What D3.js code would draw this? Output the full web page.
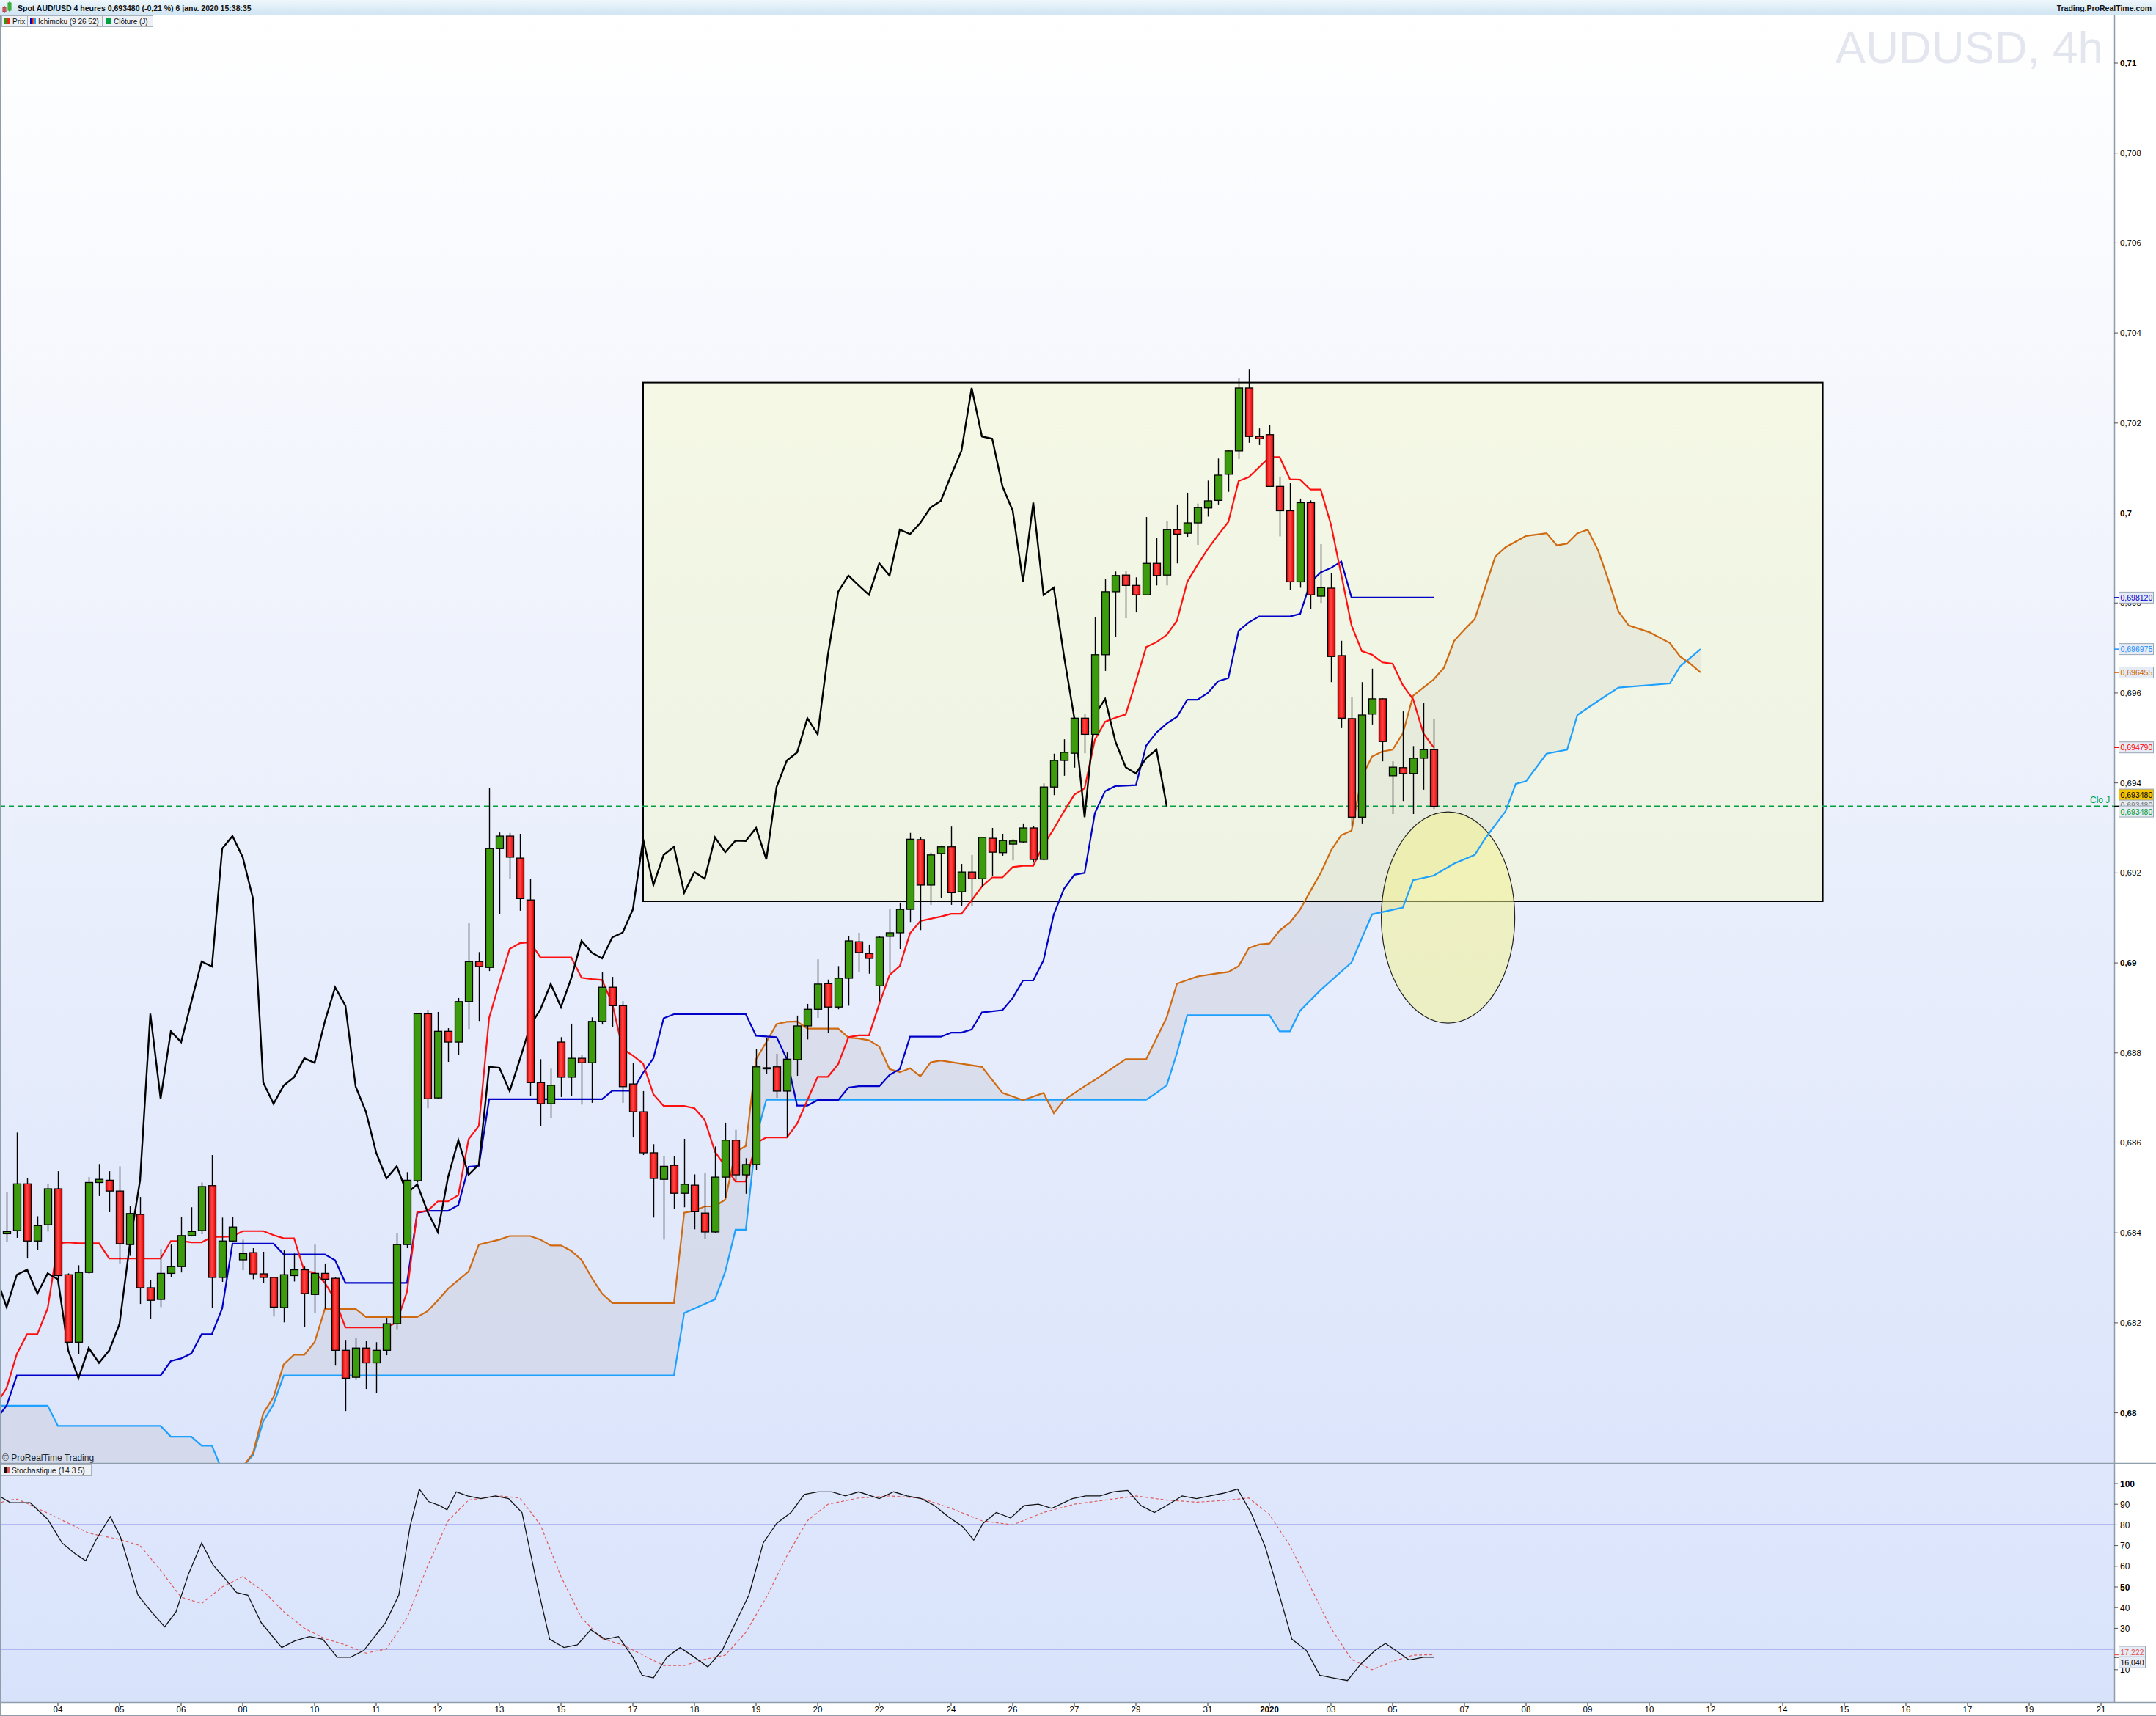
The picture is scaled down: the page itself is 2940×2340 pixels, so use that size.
<!DOCTYPE html>
<html><head><meta charset="utf-8">
<script src="https://cdn.jsdelivr.net/npm/d3@7"></script>
<style>body{margin:0;background:#fff;}svg{display:block;font-family:"Liberation Sans",Arial,sans-serif;}</style>
</head><body><svg id="c" width="2940" height="2340"></svg>
<script>
// ---- candles (4h), slot index = position ----
const openP=[0.68398,0.68405,0.68509,0.68382,0.68418,0.68498,0.68307,0.68157,0.68312,0.68512,0.68517,0.68493,0.68374,0.68441,0.68278,0.68252,0.68310,0.68325,0.68394,0.68405,0.68505,0.68301,0.68382,0.68340,0.68356,0.68309,0.68301,0.68234,0.68305,0.68318,0.68263,0.68310,0.68299,0.68139,0.68079,0.68144,0.68111,0.68139,0.68198,0.68374,0.68516,0.68887,0.68700,0.68848,0.68824,0.68914,0.69003,0.68990,0.69254,0.69282,0.69233,0.69140,0.68734,0.68687,0.68824,0.68746,0.68788,0.68778,0.68870,0.68946,0.68905,0.68731,0.68669,0.68578,0.68519,0.68550,0.68488,0.68506,0.68444,0.68402,0.68524,0.68606,0.68529,0.68552,0.68767,0.68769,0.68715,0.68785,0.68860,0.68897,0.68954,0.68902,0.68966,0.69047,0.69021,0.68949,0.69059,0.69067,0.69119,0.69274,0.69173,0.69243,0.69258,0.69158,0.69202,0.69187,0.69277,0.69245,0.69264,0.69269,0.69300,0.69230,0.69391,0.69450,0.69466,0.69544,0.69508,0.69685,0.69825,0.69862,0.69839,0.69818,0.69888,0.69862,0.69963,0.69955,0.69978,0.70011,0.70028,0.70086,0.70138,0.70278,0.70170,0.70174,0.70059,0.70005,0.69847,0.70023,0.69815,0.69833,0.69683,0.69543,0.69324,0.69553,0.69587,0.69416,0.69434,0.69421,0.69455,0.69474];
const highP=[0.68490,0.68623,0.68522,0.68437,0.68509,0.68537,0.68310,0.68328,0.68524,0.68553,0.68537,0.68548,0.68459,0.68480,0.68296,0.68364,0.68374,0.68436,0.68457,0.68512,0.68573,0.68434,0.68436,0.68385,0.68366,0.68358,0.68302,0.68361,0.68354,0.68325,0.68374,0.68332,0.68301,0.68162,0.68167,0.68159,0.68157,0.68211,0.68400,0.68535,0.68889,0.68896,0.68891,0.68855,0.68922,0.69088,0.69024,0.69388,0.69290,0.69289,0.69287,0.69187,0.68786,0.68765,0.68835,0.68865,0.68795,0.68879,0.68980,0.68969,0.68915,0.68778,0.68715,0.68597,0.68571,0.68571,0.68609,0.68530,0.68534,0.68592,0.68645,0.68629,0.68566,0.68809,0.68834,0.68798,0.68801,0.68883,0.68909,0.69008,0.68963,0.68993,0.69060,0.69067,0.69041,0.69059,0.69119,0.69134,0.69289,0.69280,0.69245,0.69261,0.69303,0.69220,0.69240,0.69280,0.69300,0.69287,0.69275,0.69310,0.69305,0.69399,0.69465,0.69497,0.69546,0.69554,0.69768,0.69854,0.69870,0.69872,0.69857,0.69991,0.69945,0.69983,0.70019,0.70045,0.70021,0.70072,0.70121,0.70140,0.70301,0.70320,0.70188,0.70196,0.70081,0.70066,0.70032,0.70028,0.69931,0.69866,0.69716,0.69592,0.69624,0.69654,0.69588,0.69448,0.69559,0.69482,0.69577,0.69543];
const lowP=[0.68380,0.68389,0.68343,0.68362,0.68403,0.68284,0.68154,0.68131,0.68309,0.68482,0.68446,0.68332,0.68349,0.68242,0.68209,0.68235,0.68301,0.68312,0.68392,0.68397,0.68234,0.68291,0.68379,0.68317,0.68297,0.68288,0.68214,0.68201,0.68292,0.68191,0.68222,0.68231,0.68105,0.68004,0.68073,0.68053,0.68045,0.68128,0.68186,0.68366,0.68512,0.68677,0.68698,0.68780,0.68796,0.68853,0.68871,0.68982,0.69109,0.69187,0.69116,0.68705,0.68638,0.68656,0.68702,0.68705,0.68685,0.68689,0.68863,0.68857,0.68689,0.68612,0.68573,0.68434,0.68385,0.68454,0.68457,0.68408,0.68387,0.68400,0.68477,0.68516,0.68487,0.68540,0.68754,0.68700,0.68612,0.68749,0.68830,0.68878,0.68844,0.68897,0.68905,0.68980,0.68976,0.68915,0.68977,0.69031,0.69091,0.69073,0.69129,0.69145,0.69129,0.69127,0.69126,0.69170,0.69194,0.69238,0.69228,0.69267,0.69223,0.69228,0.69373,0.69416,0.69434,0.69466,0.69507,0.69649,0.69725,0.69766,0.69779,0.69818,0.69839,0.69839,0.69888,0.69947,0.69929,0.69992,0.70019,0.70047,0.70120,0.70156,0.70151,0.70058,0.69948,0.69829,0.69834,0.69786,0.69800,0.69624,0.69522,0.69303,0.69310,0.69530,0.69448,0.69331,0.69360,0.69331,0.69385,0.69342];
const closeP=[0.68403,0.68509,0.68382,0.68416,0.68498,0.68305,0.68157,0.68312,0.68512,0.68519,0.68493,0.68376,0.68443,0.68278,0.68250,0.68310,0.68325,0.68394,0.68403,0.68503,0.68301,0.68382,0.68413,0.68354,0.68309,0.68301,0.68235,0.68307,0.68318,0.68265,0.68310,0.68297,0.68139,0.68077,0.68144,0.68111,0.68139,0.68198,0.68374,0.68517,0.68887,0.68698,0.68848,0.68824,0.68914,0.69003,0.68992,0.69254,0.69282,0.69235,0.69143,0.68734,0.68687,0.68728,0.68746,0.68788,0.68778,0.68870,0.68946,0.68905,0.68725,0.68669,0.68578,0.68521,0.68548,0.68488,0.68508,0.68447,0.68402,0.68524,0.68606,0.68529,0.68552,0.68769,0.68767,0.68715,0.68786,0.68860,0.68897,0.68953,0.68902,0.68966,0.69049,0.69023,0.69010,0.69057,0.69067,0.69119,0.69275,0.69173,0.69240,0.69258,0.69156,0.69202,0.69187,0.69279,0.69246,0.69272,0.69271,0.69300,0.69230,0.69391,0.69450,0.69468,0.69544,0.69508,0.69685,0.69825,0.69861,0.69839,0.69818,0.69888,0.69861,0.69963,0.69953,0.69978,0.70012,0.70027,0.70084,0.70138,0.70278,0.70170,0.70165,0.70059,0.70005,0.69847,0.70023,0.69818,0.69834,0.69681,0.69544,0.69324,0.69551,0.69587,0.69492,0.69435,0.69421,0.69455,0.69474,0.69348];
const chikouShift=26;
// ---- Ichimoku lines: [slot, price] vertices ----
const tenkan=[[-1,0.68019],[0,0.68055],[1,0.68131],[2,0.68175],[3,0.68175],[4,0.68232],[5,0.68377],[6,0.68379],[7,0.68377],[9,0.68377],[10,0.68343],[15,0.68343],[16,0.68382],[17,0.68382],[18,0.68379],[19,0.68379],[20,0.68391],[21,0.68391],[22,0.68392],[23,0.68404],[25,0.68404],[26,0.68395],[27,0.68388],[28,0.68388],[29,0.68315],[30,0.68312],[31,0.68289],[32,0.68251],[33,0.68190],[37,0.68190],[38,0.68201],[39,0.68269],[40,0.68446],[41,0.68449],[42,0.68470],[43,0.68470],[44,0.68484],[45,0.68608],[46,0.68638],[47,0.68878],[48,0.68956],[49,0.69031],[50,0.69044],[51,0.69046],[52,0.69012],[55,0.69012],[56,0.68967],[57,0.68964],[58,0.68962],[59,0.68909],[60,0.68809],[61,0.68794],[62,0.68776],[63,0.68708],[64,0.68682],[66,0.68682],[67,0.68677],[68,0.68651],[69,0.68580],[70,0.68548],[71,0.68514],[72,0.68514],[73,0.68600],[74,0.68612],[76,0.68612],[77,0.68643],[78,0.68695],[79,0.68747],[80,0.68747],[81,0.68775],[82,0.68835],[83,0.68839],[84,0.68839],[85,0.68909],[86,0.68973],[87,0.68993],[88,0.69066],[89,0.69093],[90,0.69098],[91,0.69103],[92,0.69109],[93,0.69109],[94,0.69139],[95,0.69170],[96,0.69190],[97,0.69190],[98,0.69213],[99,0.69216],[100,0.69216],[101,0.69262],[102,0.69298],[103,0.69337],[104,0.69374],[105,0.69388],[106,0.69496],[107,0.69536],[108,0.69545],[109,0.69552],[110,0.69626],[111,0.69702],[112,0.69713],[113,0.69729],[114,0.69761],[115,0.69847],[116,0.69885],[117,0.69920],[118,0.69951],[119,0.69980],[120,0.70071],[121,0.70080],[122,0.70102],[123,0.70124],[124,0.70124],[125,0.70075],[126,0.70074],[127,0.70052],[128,0.70052],[129,0.69974],[130,0.69863],[131,0.69750],[132,0.69693],[133,0.69685],[134,0.69668],[135,0.69665],[136,0.69617],[137,0.69586],[138,0.69510],[139,0.69479]];
const kijun=[[-1,0.67986],[0,0.68016],[1,0.68083],[15,0.68083],[16,0.68115],[17,0.68121],[18,0.68132],[19,0.68175],[20,0.68175],[21,0.68232],[22,0.68376],[26,0.68376],[27,0.68352],[31,0.68352],[32,0.68339],[33,0.68289],[39,0.68289],[40,0.68445],[41,0.68449],[43,0.68449],[44,0.68462],[45,0.68547],[46,0.68549],[47,0.68697],[58,0.68697],[59,0.68716],[61,0.68716],[62,0.68756],[63,0.68788],[64,0.68877],[65,0.68886],[72,0.68886],[73,0.68838],[75,0.68835],[76,0.68786],[77,0.68683],[78,0.68683],[79,0.68695],[81,0.68695],[82,0.68723],[83,0.68726],[85,0.68726],[86,0.68751],[87,0.68764],[88,0.68836],[91,0.68836],[92,0.68845],[93,0.68845],[94,0.68852],[95,0.68890],[97,0.68895],[98,0.68922],[99,0.68961],[100,0.68961],[101,0.69006],[102,0.69108],[103,0.69165],[104,0.69196],[105,0.69200],[106,0.69333],[107,0.69382],[108,0.69393],[110,0.69395],[111,0.69483],[112,0.69512],[113,0.69532],[114,0.69547],[115,0.69585],[116,0.69585],[117,0.69600],[118,0.69626],[119,0.69633],[120,0.69738],[121,0.69757],[122,0.69770],[125,0.69770],[126,0.69776],[127,0.69846],[128,0.69868],[129,0.69878],[130,0.69892],[131,0.69812],[139,0.69812]];
const senkouA=[[-1,0.6775],[22,0.6778],[23,0.67880],[24,0.67910],[25,0.67999],[26,0.68035],[27,0.68108],[28,0.68129],[29,0.68129],[30,0.68157],[31,0.68231],[34,0.68231],[35,0.68213],[40,0.68213],[41,0.68226],[42,0.68250],[43,0.68276],[45,0.68314],[46,0.68374],[48,0.68385],[49,0.68393],[51,0.68393],[52,0.68385],[53,0.68372],[54,0.68372],[55,0.68360],[56,0.68340],[57,0.68300],[58,0.68265],[59,0.68244],[65,0.68244],[66,0.68445],[67,0.68449],[68,0.68459],[69,0.68459],[70,0.68474],[71,0.68580],[72,0.68593],[73,0.68786],[74,0.68824],[75,0.68864],[76,0.68869],[77,0.68870],[78,0.68854],[81,0.68854],[82,0.68834],[83,0.68832],[84,0.68828],[85,0.68814],[86,0.68764],[87,0.68757],[88,0.68766],[89,0.68748],[90,0.68779],[91,0.68783],[95,0.68769],[97,0.68711],[99,0.68695],[101,0.68711],[102,0.68666],[103,0.68695],[105,0.68726],[106,0.68740],[109,0.68786],[111,0.68786],[113,0.68879],[114,0.68954],[116,0.68970],[118,0.68977],[119,0.68980],[120,0.68993],[121,0.69033],[122,0.69041],[123,0.69043],[124,0.69072],[125,0.69090],[126,0.69119],[127,0.69160],[128,0.69200],[129,0.69250],[130,0.69284],[131,0.69294],[132,0.69413],[133,0.69459],[134,0.69470],[135,0.69474],[136,0.69510],[137,0.69594],[138,0.69612],[139,0.69630],[140,0.69656],[141,0.69716],[142,0.69741],[143,0.69764],[145,0.69903],[146,0.69924],[148,0.69949],[150,0.69955],[151,0.69928],[152,0.69932],[153,0.69955],[154,0.69963],[155,0.69918],[156,0.69852],[157,0.69781],[158,0.69750],[160,0.69735],[162,0.69711],[163,0.69681],[164,0.69665],[165,0.696455]];
const senkouB=[[-1,0.68016],[4,0.68016],[5,0.67971],[15,0.67971],[16,0.67947],[18,0.67947],[19,0.67927],[20,0.67927],[21,0.67872],[22,0.67864],[23,0.67880],[24,0.67906],[25,0.67981],[26,0.68019],[27,0.68083],[65,0.68083],[66,0.68222],[69,0.68252],[70,0.68314],[71,0.68407],[72,0.68407],[73,0.68612],[74,0.68696],[111,0.68696],[112,0.68711],[113,0.68728],[114,0.68800],[115,0.68884],[123,0.68884],[124,0.68848],[125,0.68848],[126,0.68894],[128,0.68940],[131,0.69001],[133,0.69108],[136,0.69123],[137,0.69184],[139,0.69194],[141,0.69221],[143,0.69240],[144,0.69276],[146,0.69337],[147,0.69398],[148,0.69404],[150,0.69465],[152,0.69474],[153,0.69551],[155,0.69582],[157,0.69612],[162,0.69621],[163,0.69659],[165,0.696975]];
// ---- Stochastic (14 3 5): [slot, value] ----
const stochK=[[-1,94.7],[0.4,90.7],[2.3,90.7],[4,82.7],[5.4,71.3],[6.7,66],[7.7,62.7],[8.7,72.7],[10.1,84],[11.1,74],[12.8,46],[14.1,38],[15.4,30.7],[16.5,38],[17.7,56],[19,71.3],[20.1,60.7],[21.5,52.7],[22.4,47.3],[23.5,46],[24.8,32.7],[26.8,20.7],[28.1,24],[29.5,26],[30.8,24.7],[32.2,16],[33.5,16],[34.8,19.3],[36.9,32.7],[38.2,46],[39.3,79.3],[40.2,97.3],[41.1,91.3],[42.2,89.3],[42.9,87.3],[43.8,96],[44.9,94],[46.2,92.7],[47.6,94],[48.9,92.7],[50.2,86],[51.6,52.7],[52.9,24.7],[54.3,20.7],[55.6,22],[56.9,29.3],[58.3,24.7],[59.6,26],[61,16],[61.9,7.3],[63,6],[64.3,16],[65.6,20.7],[67,16],[68.3,11.3],[69.7,19.3],[71,32.7],[72.3,46],[73.7,71.3],[75,80.7],[76.4,86],[77.7,94.7],[79,96],[80.4,96],[81.7,94],[83,96],[85,92.7],[86.4,96],[87.7,94],[89.1,92.7],[90.4,89.3],[91.7,84],[93.1,79.3],[94.2,72.7],[95.1,80.7],[96.4,86],[97.8,83.3],[99.1,89.3],[100.5,90],[101.8,88],[103.8,92.7],[105.1,94],[106.5,94],[107.8,96],[109.2,96.7],[110.5,89.3],[111.8,86],[113.2,90],[114.5,94],[115.9,92.7],[117.2,94],[118.5,95.3],[119.9,97.3],[121.2,86],[122.6,69.3],[123.9,47.3],[125.2,24.7],[126.6,19.3],[127.9,7.3],[129.2,6],[130.6,4.7],[131.9,12.7],[133.3,19.3],[134.3,22.7],[135.3,19.3],[136.6,14.7],[138,16],[139,16.04]];
const stochD=[[-1,90],[0,91.8],[1,92.4],[2,90.4],[3,88],[4,85.7],[5,83.3],[8,76],[11,73],[13,70],[15,58],[17,45],[19,42],[21,50],[23,55],[25,48],[27,38],[29,30],[31,25],[33,22],[35,18],[37,20],[39,35],[41,60],[43,82],[45,92],[48,94],[50,93],[52,80],[54,55],[56,35],[58,25],[60,22],[62,17],[64,12],[66,12],[68,15],[70,17],[72,28],[74,45],[76,65],[78,82],[80,90],[83,93],[86,94],[89,93],[92,88],[95,82],[98,80],[101,86],[104,90],[107,92],[110,94],[113,92],[116,91],[119,92],[121,93],[123,85],[125,70],[127,50],[129,30],[131,15],[133,10],[135,14],[137,17],[139,17.222]];
// ---- axes labels ----
const priceTicks=[0.68,0.682,0.684,0.686,0.688,0.69,0.692,0.694,0.696,0.698,0.70,0.702,0.704,0.706,0.708,0.71];
const stochTicks=[10,30,40,50,60,70,80,90,100];
const dayLabels=["04","05","06","08","10","11","12","13","15","17","18","19","20","22","24","26","27","29","31","2020","03","05","07","08","09","10","12","14","15","16","17","19","21"];
const daySlots=[5,11,17,23,30,36,42,48,54,61,67,73,79,85,92,98,104,110,117,123,129,135,142,148,154,160,166,173,179,185,191,197,204];
const lastClose=0.69348, lastTenkan=0.69479, lastKijun=0.69812, lastSpanA=0.696455, lastSpanB=0.696975, lastK=16.040, lastD=17.222;

// ===== drawing =====
const svg=d3.select('#c');
const AX=2883, TOP=21, MB=1995, SB=2321;
const x=d3.scaleLinear().domain([0,204]).range([9,9+14*204]);
const y=d3.scaleLinear().domain([0.68,0.71]).range([1926.6,86]);
const ys=d3.scaleLinear().domain([0,100]).range([2305,2023]);
const defs=svg.append('defs');
const g1=defs.append('linearGradient').attr('id','bgMain').attr('x1',0).attr('x2',0).attr('y1',0).attr('y2',1);
[[0,'#ffffff'],[0.45,'#eef2fc'],[1,'#dce5fb']].forEach(s=>g1.append('stop').attr('offset',s[0]).attr('stop-color',s[1]));
const g2=defs.append('linearGradient').attr('id','bgSt').attr('x1',0).attr('x2',0).attr('y1',0).attr('y2',1);
[[0,'#dfe7fc'],[1,'#d8e3fb']].forEach(s=>g2.append('stop').attr('offset',s[0]).attr('stop-color',s[1]));
const g3=defs.append('linearGradient').attr('id','hdr').attr('x1',0).attr('x2',0).attr('y1',0).attr('y2',1);
[[0,'#eef7fc'],[1,'#cfe4f2']].forEach(s=>g3.append('stop').attr('offset',s[0]).attr('stop-color',s[1]));
const g4=defs.append('linearGradient').attr('id','redg').attr('x1',0).attr('x2',1).attr('y1',0).attr('y2',0);
[[0,'#e00000'],[0.45,'#ff4848'],[1,'#e40000']].forEach(s=>g4.append('stop').attr('offset',s[0]).attr('stop-color',s[1]));
defs.append('clipPath').attr('id','cm').append('rect').attr('x',0).attr('y',TOP).attr('width',AX).attr('height',MB-TOP);
defs.append('clipPath').attr('id','cs').append('rect').attr('x',0).attr('y',MB).attr('width',AX).attr('height',SB-MB);

svg.append('rect').attr('x',0).attr('y',0).attr('width',2940).attr('height',2340).attr('fill','#fff');
svg.append('rect').attr('x',0).attr('y',TOP).attr('width',AX).attr('height',MB-TOP).attr('fill','url(#bgMain)');
svg.append('rect').attr('x',0).attr('y',MB).attr('width',AX).attr('height',SB-MB).attr('fill','url(#bgSt)');

const main=svg.append('g').attr('clip-path','url(#cm)');
const poly=senkouA.concat(senkouB.slice().reverse());
main.append('path').attr('d','M'+poly.map(p=>x(p[0])+','+y(p[1])).join('L')+'Z')
  .attr('fill','#c9cdd9').attr('fill-opacity',0.45);
main.append('rect').attr('x',x(62.0)).attr('y',y(0.70290)).attr('width',x(176.9)-x(62.0)).attr('height',y(0.69137)-y(0.70290))
  .attr('fill','#f4f8c8').attr('fill-opacity',0.45).attr('stroke','#000').attr('stroke-width',2);
main.append('ellipse').attr('cx',x(140.4)).attr('cy',y(0.69101)).attr('rx',91).attr('ry',144)
  .attr('fill','#f2f28a').attr('fill-opacity',0.5).attr('stroke','#222').attr('stroke-width',1.2);
main.append('line').attr('x1',0).attr('x2',AX).attr('y1',y(lastClose)).attr('y2',y(lastClose))
  .attr('stroke','#00a040').attr('stroke-width',2).attr('stroke-dasharray','7,5');
const ln=d3.line().x(p=>x(p[0])).y(p=>y(p[1]));
main.append('path').attr('d',ln(senkouB)).attr('fill','none').attr('stroke','#1ea0ff').attr('stroke-width',2.2);
main.append('path').attr('d',ln(senkouA)).attr('fill','none').attr('stroke','#d06a10').attr('stroke-width',2.2);
main.append('path').attr('d',ln(kijun)).attr('fill','none').attr('stroke','#0000c8').attr('stroke-width',2.2);
main.append('path').attr('d',ln(tenkan)).attr('fill','none').attr('stroke','#ff1010').attr('stroke-width',2.2);
const chik=closeP.map((c,i)=>[i-chikouShift,c]);
main.append('path').attr('d',ln(chik)).attr('fill','none').attr('stroke','#000').attr('stroke-width',2.4);
const idx=d3.range(closeP.length);
const cg=main.append('g');
cg.selectAll('line').data(idx).join('line')
  .attr('x1',i=>Math.round(x(i))+0.5).attr('x2',i=>Math.round(x(i))+0.5)
  .attr('y1',i=>y(highP[i])).attr('y2',i=>y(lowP[i])).attr('stroke','#000').attr('stroke-width',1.4);
cg.selectAll('rect').data(idx).join('rect')
  .attr('x',i=>Math.round(x(i))-4.5).attr('width',10)
  .attr('y',i=>y(Math.max(openP[i],closeP[i])))
  .attr('height',i=>Math.max(1.5,Math.abs(y(openP[i])-y(closeP[i]))))
  .attr('fill',i=>closeP[i]>=openP[i]?'#3d9c0e':'url(#redg)')
  .attr('stroke','#000').attr('stroke-width',1.3);

svg.append('text').attr('x',2868).attr('y',86).attr('text-anchor','end').attr('font-size',62)
  .attr('fill','#e3e6ee').text('AUDUSD, 4h');
svg.append('text').attr('x',3).attr('y',1992).attr('font-size',12).attr('fill','#222').text('© ProRealTime Trading');
svg.append('text').attr('x',2850).attr('y',1095).attr('font-size',12).attr('fill','#00a040').text('Clo J');

const st=svg.append('g').attr('clip-path','url(#cs)');
[80,20].forEach(v=>st.append('line').attr('x1',0).attr('x2',AX).attr('y1',ys(v)).attr('y2',ys(v)).attr('stroke','#3030d0').attr('stroke-width',1.2));
const lns=d3.line().x(p=>x(p[0])).y(p=>ys(p[1]));
st.append('path').attr('d',lns(stochD)).attr('fill','none').attr('stroke','#e05a5a').attr('stroke-width',1.2).attr('stroke-dasharray','4,3');
st.append('path').attr('d',lns(stochK)).attr('fill','none').attr('stroke','#111').attr('stroke-width',1.3);

svg.append('line').attr('x1',0).attr('x2',2940).attr('y1',MB+0.5).attr('y2',MB+0.5).attr('stroke','#8e9daa').attr('stroke-width',1.5);
svg.append('line').attr('x1',0).attr('x2',2940).attr('y1',SB+0.5).attr('y2',SB+0.5).attr('stroke','#8e9daa').attr('stroke-width',1.5);
svg.append('line').attr('x1',AX+0.5).attr('x2',AX+0.5).attr('y1',TOP).attr('y2',SB).attr('stroke','#8e9daa').attr('stroke-width',1.5);
svg.append('line').attr('x1',0.5).attr('x2',0.5).attr('y1',TOP).attr('y2',2340).attr('stroke','#8e9daa').attr('stroke-width',1.5);
svg.append('line').attr('x1',0).attr('x2',2940).attr('y1',2339).attr('y2',2339).attr('stroke','#8e9daa').attr('stroke-width',2);

const fmt=v=>d3.format('.3~f')(v).replace('.',',');
const pa=svg.append('g');
priceTicks.forEach(v=>{
  const yy=y(v);
  pa.append('line').attr('x1',AX).attr('x2',AX+5).attr('y1',yy).attr('y2',yy).attr('stroke','#555');
  const lab=fmt(v);
  pa.append('text').attr('x',AX+8).attr('y',yy+4).attr('font-size',11.5).attr('font-weight',lab.length<=4?'bold':'normal').attr('fill','#000').text(lab);
});
stochTicks.forEach(v=>{
  const yy=ys(v);
  pa.append('line').attr('x1',AX).attr('x2',AX+5).attr('y1',yy).attr('y2',yy).attr('stroke','#555');
  pa.append('text').attr('x',AX+8).attr('y',yy+4.5).attr('font-size',12).attr('font-weight',(v===100||v===50)?'bold':'normal').text(v);
});
function tag(label,yy,col,bg,yl,w,tcol){
  pa.append('line').attr('x1',AX).attr('x2',AX+6).attr('y1',yl).attr('y2',yl).attr('stroke',col).attr('stroke-width',1.5);
  pa.append('rect').attr('x',AX+6.5).attr('y',yy-7.5).attr('width',w).attr('height',15).attr('fill',bg).attr('stroke','#9aa6b4');
  pa.append('text').attr('x',AX+8.5).attr('y',yy+4.2).attr('font-size',10.5).attr('fill',tcol||col).text(label);
}
const f6=v=>v.toFixed(6).replace('.',','), f3=v=>v.toFixed(3).replace('.',',');
tag(f6(lastKijun),y(lastKijun),'#0000cc','#e6ecf5',y(lastKijun),47);
tag(f6(lastSpanB),y(lastSpanB),'#1e90ff','#e6ecf5',y(lastSpanB),47);
tag(f6(lastSpanA),y(lastSpanA),'#cc6600','#e6ecf5',y(lastSpanA),47);
tag(f6(lastTenkan),y(lastTenkan),'#ff0000','#e6ecf5',y(lastTenkan),47);
tag(f6(lastClose),y(lastClose)-2,'#777777','#e6ecf5',y(lastClose),47);
tag(f6(lastClose),y(lastClose)+7,'#009933','#e6ecf5',y(lastClose),47);
tag(f6(lastClose),y(lastClose)-16,'#000000','#f5c400',y(lastClose),47);
tag(f3(lastD),ys(lastD)-4,'#e05a5a','#e6ecf5',ys(lastD),36);
tag(f3(lastK),ys(lastK)+7,'#000000','#e6ecf5',ys(lastK),36);

const ta=svg.append('g');
dayLabels.forEach((d,i)=>{
  const xx=x(daySlots[i]);
  ta.append('line').attr('x1',xx).attr('x2',xx).attr('y1',SB+1).attr('y2',SB+5).attr('stroke','#333');
  ta.append('text').attr('x',xx).attr('y',2335).attr('text-anchor','middle').attr('font-size',11.5)
    .attr('font-weight',d==='2020'?'bold':'normal').attr('fill','#000').text(d);
});

svg.append('rect').attr('x',0).attr('y',0).attr('width',2940).attr('height',TOP).attr('fill','url(#hdr)');
svg.append('line').attr('x1',0).attr('x2',2940).attr('y1',TOP-0.5).attr('y2',TOP-0.5).attr('stroke','#8e9daa');
svg.append('rect').attr('x',4).attr('y',10).attr('width',4).attr('height',6).attr('fill','#f08080').attr('stroke','#a33');
svg.append('line').attr('x1',6).attr('x2',6).attr('y1',8).attr('y2',18).attr('stroke','#a33');
svg.append('rect').attr('x',11).attr('y',4).attr('width',4).attr('height',10).attr('fill','#50d050').attr('stroke','#292');
svg.append('line').attr('x1',13).attr('x2',13).attr('y1',2).attr('y2',16).attr('stroke','#292');
svg.append('text').attr('x',24).attr('y',15).attr('font-size',10.5).attr('font-weight','bold').attr('fill','#111')
  .text('Spot AUD/USD 4 heures 0,693480 (-0,21 %) 6 janv. 2020 15:38:35');
svg.append('text').attr('x',2934).attr('y',15).attr('text-anchor','end').attr('font-size',10.5).attr('font-weight','bold').attr('fill','#111')
  .text('Trading.ProRealTime.com');
function legBox(x0,w,label,cols){
  svg.append('rect').attr('x',x0+0.5).attr('y',21.5).attr('width',w).attr('height',15).attr('fill','#eef1f5').attr('stroke','#a8b2bd');
  const cw=8/cols.length;
  cols.forEach((c,k)=>svg.append('rect').attr('x',x0+4+k*cw).attr('y',25).attr('width',cw).attr('height',8).attr('fill',c));
  svg.append('text').attr('x',x0+15).attr('y',33).attr('font-size',10).attr('fill','#111').text(label);
}
legBox(2,35,'Prix',['#2a9a10','#ff2020']);
legBox(37,102,'Ichimoku (9 26 52)',['#0000c8','#ff1010','#d06a10','#1ea0ff']);
legBox(140,68,'Clôture (J)',['#00a040']);
svg.append('rect').attr('x',1.5).attr('y',1997.5).attr('width',123).attr('height',15).attr('fill','#eef1f5').attr('stroke','#a8b2bd');
svg.append('rect').attr('x',5).attr('y',2001).attr('width',4).attr('height',8).attr('fill','#111');
svg.append('rect').attr('x',9).attr('y',2001).attr('width',4).attr('height',8).attr('fill','#e05a5a');
svg.append('text').attr('x',16).attr('y',2009).attr('font-size',10.5).attr('fill','#111').text('Stochastique (14 3 5)');
</script></body></html>
